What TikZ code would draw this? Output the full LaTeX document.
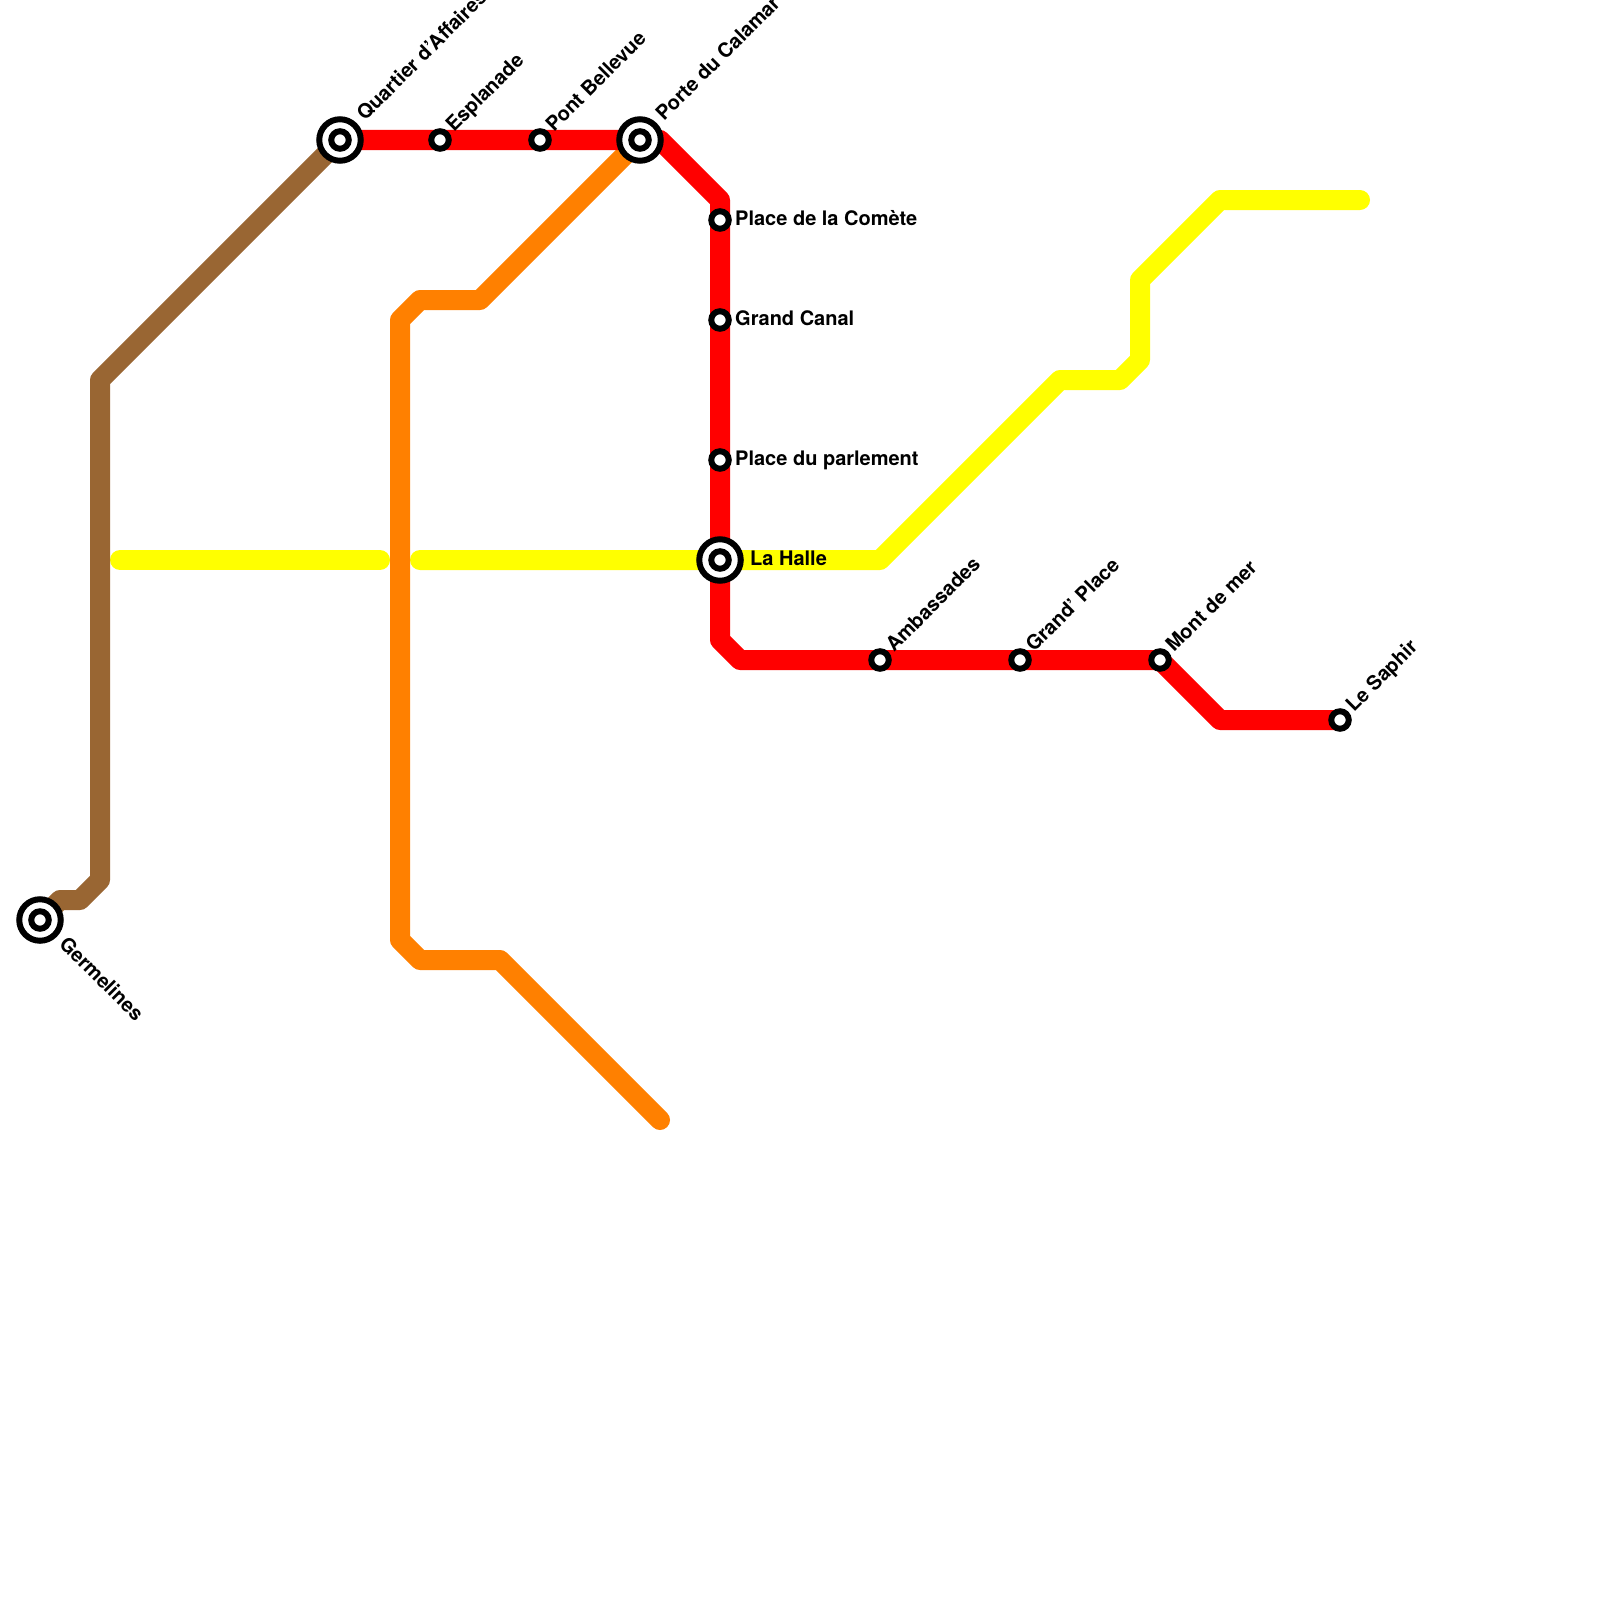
\documentclass[tikz,border=0pt]{standalone}
\usepackage{fontspec}
\setmainfont{TeX Gyre Heros}
\definecolor{lbrown}{HTML}{996633}
\definecolor{lorange}{HTML}{FF8000}
\definecolor{lyellow}{HTML}{FFFF00}
\definecolor{lred}{HTML}{FF0000}
\tikzset{
  metro/.style={line width=20pt,line join=round,line cap=round},
  stop/.style={circle,draw=black,fill=white,line width=6pt,minimum size=17.5pt,inner sep=0pt,outer sep=0pt},
  hub/.style={circle,draw=black,fill=white,line width=6pt,minimum size=41.5pt,inner sep=0pt,outer sep=0pt,
    path picture={\draw[black,line width=6pt] (path picture bounding box.center) circle (8.75pt);}},
  lbl/.style={font=\bfseries\fontsize{20pt}{22pt}\selectfont,text=black,inner sep=0pt,anchor=base west},
  up/.style={lbl,rotate=45},
  down/.style={lbl,rotate=-45}
}
\begin{document}
\begin{tikzpicture}[x=1pt,y=-1pt]
\useasboundingbox (0,0) rectangle (1600,1600);
\clip (0,0) rectangle (1600,1600);
\fill[white] (0,0) rectangle (1600,1600);
% stations
\coordinate (germ) at (40,920);
\coordinate (quar) at (340,140);
\coordinate (espl) at (440,140);
\coordinate (pont) at (540,140);
\coordinate (port) at (640,140);
\coordinate (come) at (720,220);
\coordinate (cana) at (720,320);
\coordinate (parl) at (720,460);
\coordinate (hall) at (720,560);
\coordinate (amba) at (880,660);
\coordinate (gran) at (1020,660);
\coordinate (mont) at (1160,660);
\coordinate (saph) at (1340,720);
% line ends and bends
\coordinate (b1) at (60,900);
\coordinate (b2) at (80,900);
\coordinate (b3) at (100,880);
\coordinate (b4) at (100,380);
\coordinate (o1) at (480,300);
\coordinate (o2) at (420,300);
\coordinate (o3) at (400,320);
\coordinate (o4) at (400,940);
\coordinate (o5) at (420,960);
\coordinate (o6) at (500,960);
\coordinate (o7) at (660,1120);
\coordinate (y1) at (120,560);
\coordinate (y2) at (380,560);
\coordinate (y3) at (420,560);
\coordinate (y4) at (880,560);
\coordinate (y5) at (1060,380);
\coordinate (y6) at (1120,380);
\coordinate (y7) at (1140,360);
\coordinate (y8) at (1140,280);
\coordinate (y9) at (1220,200);
\coordinate (y10) at (1360,200);
\coordinate (r0) at (660,140);
\coordinate (r1) at (720,200);
\coordinate (r2) at (720,640);
\coordinate (r3) at (740,660);
\coordinate (r4) at (1220,720);
% lines
\draw[metro,lyellow] (y1) -- (y2);
\draw[metro,lyellow] (y3) -- (hall) -- (y4) -- (y5) -- (y6) -- (y7) -- (y8) -- (y9) -- (y10);
\draw[metro,lbrown] (germ) -- (b1) -- (b2) -- (b3) -- (b4) -- (quar);
\draw[metro,lorange] (port) -- (o1) -- (o2) -- (o3) -- (o4) -- (o5) -- (o6) -- (o7);
\draw[metro,lred] (quar) -- (espl) -- (pont) -- (port) -- (r0) -- (r1) -- (come) -- (cana) -- (parl) -- (hall) -- (r2) -- (r3) -- (amba) -- (gran) -- (mont) -- (r4) -- (saph);
% markers
\node[hub] (nGerm) at (germ) {};
\node[hub] (nQuar) at (quar) {};
\node[stop] (nEspl) at (espl) {};
\node[stop] (nPont) at (pont) {};
\node[hub] (nPort) at (port) {};
\node[stop] (nCome) at (come) {};
\node[stop] (nCana) at (cana) {};
\node[stop] (nParl) at (parl) {};
\node[hub] (nHall) at (hall) {};
\node[stop] (nAmba) at (amba) {};
\node[stop] (nGran) at (gran) {};
\node[stop] (nMont) at (mont) {};
\node[stop] (nSaph) at (saph) {};
% labels
\node[down] (tGerm) at (58,945) {Germelines};
\node[up] (tQuar) at (365,122) {Quartier d’Affaires};
\node[up] (tEspl) at (454,133) {Esplanade};
\node[up] (tPont) at (554,133) {Pont Bellevue};
\node[up] (tPort) at (664,122) {Porte du Calamar};
\node[lbl] (tCome) at (735,225) {Place de la Comète};
\node[lbl] (tCana) at (735,325) {Grand Canal};
\node[lbl] (tParl) at (735,465) {Place du parlement};
\node[lbl] (tHall) at (750,565) {La Halle};
\node[up] (tAmba) at (894,653) {Ambassades};
\node[up] (tGran) at (1034,653) {Grand’ Place};
\node[up] (tMont) at (1174,653) {Mont de mer};
\node[up] (tSaph) at (1354,713) {Le Saphir};
\end{tikzpicture}
\end{document}
